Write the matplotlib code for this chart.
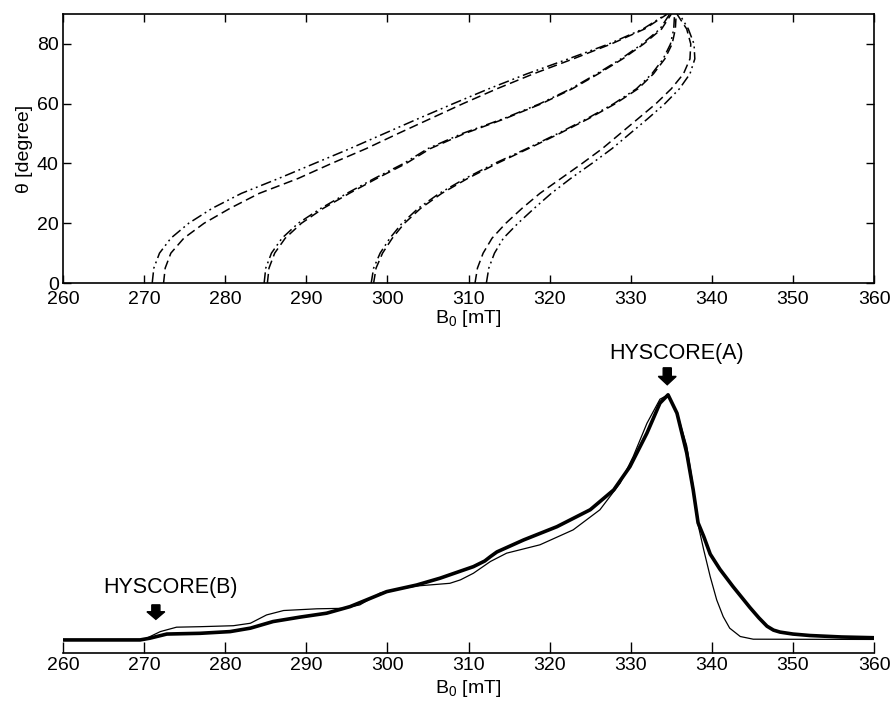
import matplotlib
matplotlib.use('Agg')
import matplotlib.pyplot as plt

plt.rcParams['font.family'] = ['Liberation Sans', 'DejaVu Sans']
plt.rcParams['mathtext.default'] = 'regular'

# top panel: resonance field vs orientation, 4 hyperfine pairs (dash-dot-dot / dashed)
theta_deg = [0, 5, 10, 15, 20, 25, 30, 35, 40, 45, 50, 55, 60, 65, 70, 75, 80, 85, 90]

p1_dashdot = [271.0, 271.2, 271.9, 273.3, 275.5, 278.4, 282.0, 286.6, 291.0, 295.4,
              299.6, 303.8, 308.1, 312.5, 317.2, 322.3, 327.3, 331.5, 334.4]
p1_dashed = [272.4, 272.6, 273.3, 274.9, 277.4, 280.6, 284.2, 289.0, 293.1, 297.4,
             301.3, 305.3, 309.3, 313.5, 318.0, 322.9, 327.6, 331.7, 334.5]
p2_dashdot = [284.8, 285.0, 285.7, 287.0, 289.0, 291.8, 295.0, 298.4, 302.0, 305.0,
              309.2, 314.3, 318.8, 322.6, 325.8, 328.8, 331.4, 333.6, 334.8]
p2_dashed = [285.2, 285.4, 286.1, 287.4, 289.4, 292.1, 295.3, 298.7, 302.3, 305.3,
             309.5, 314.5, 319.0, 322.8, 326.0, 329.0, 331.6, 333.8, 335.0]
p3_dashdot = [298.0, 298.3, 299.1, 300.3, 301.8, 303.8, 306.4, 309.6, 313.2, 317.2,
              321.0, 324.6, 327.9, 330.7, 332.6, 334.0, 334.9, 335.3, 335.4]
p3_dashed = [298.3, 298.6, 299.4, 300.6, 302.1, 304.1, 306.7, 309.9, 313.5, 317.4,
             321.2, 324.8, 328.1, 330.9, 332.8, 334.2, 335.1, 335.5, 335.6]
p4_dashed = [310.8, 311.1, 311.8, 312.9, 314.6, 316.6, 318.8, 321.4, 324.0, 326.5,
             328.7, 330.9, 333.1, 335.0, 336.5, 337.3, 337.4, 336.9, 335.7]
p4_dashdot = [312.2, 312.5, 313.2, 314.3, 316.1, 318.1, 320.2, 322.6, 325.2, 327.7,
              329.9, 332.1, 334.2, 336.0, 337.3, 337.9, 337.8, 337.1, 336.0]

# bottom panel: experimental (thick) and simulated (thin) field-swept spectrum
exp_B = [260, 269.5, 270.7, 272.8, 276.9, 280.6, 283.1, 285.9, 289.2, 292.5, 295.4,
         297.4, 299.9, 303.6, 306.5, 310.6, 312.0, 312.7, 313.5, 316.8, 320.9, 325.0,
         327.9, 329.9, 332.0, 333.6, 334.6, 335.7, 336.9, 337.7, 338.3, 339.0, 339.8,
         341.0, 342.6, 344.7, 345.8, 346.8, 347.6, 348.4, 350.0, 352.1, 356.0, 360]
exp_I = [0, 0, 0.007, 0.024, 0.027, 0.034, 0.048, 0.075, 0.093, 0.109, 0.136,
         0.163, 0.197, 0.224, 0.252, 0.299, 0.322, 0.340, 0.359, 0.408, 0.462, 0.531,
         0.612, 0.707, 0.844, 0.966, 1.0, 0.925, 0.763, 0.612, 0.478, 0.422, 0.350,
         0.288, 0.218, 0.132, 0.090, 0.056, 0.040, 0.032, 0.024, 0.018, 0.012, 0.009]
sim_B = [260, 270.0, 272.0, 274.0, 276.9, 281.0, 283.1, 285.1, 287.2, 291.3, 294.6,
         296.6, 299.1, 300.3, 303.6, 307.7, 309.0, 310.6, 312.7, 314.7, 318.8, 322.9,
         326.2, 328.7, 330.3, 332.0, 333.6, 334.6, 335.7, 336.9, 337.7, 338.3, 339.0,
         339.8, 340.6, 341.4, 342.2, 343.5, 345.1, 360]
sim_I = [0, 0.002, 0.034, 0.052, 0.054, 0.058, 0.068, 0.102, 0.120, 0.127, 0.129,
         0.143, 0.191, 0.201, 0.220, 0.231, 0.245, 0.272, 0.320, 0.354, 0.388, 0.449,
         0.531, 0.640, 0.748, 0.884, 0.982, 1.0, 0.927, 0.792, 0.625, 0.470, 0.367,
         0.258, 0.163, 0.095, 0.048, 0.014, 0.003, 0.002]

xticks = [260, 270, 280, 290, 300, 310, 320, 330, 340, 350, 360]

fig = plt.figure(figsize=(8.91, 7.04), dpi=100)

# top axes
ax1 = fig.add_axes([0.0707, 0.598, 0.9103, 0.382])
dashdotdot = (0, (7, 2.5, 1.2, 2.5, 1.2, 2.5))
dashed = (0, (6, 3))
for bb in [p1_dashdot, p2_dashdot, p3_dashdot, p4_dashdot]:
    ax1.plot(bb, theta_deg, color='k', lw=1.1, linestyle=dashdotdot)
for bb in [p1_dashed, p2_dashed, p3_dashed, p4_dashed]:
    ax1.plot(bb, theta_deg, color='k', lw=1.1, linestyle=dashed)
ax1.set_xlim(260, 360)
ax1.set_ylim(0, 90)
ax1.set_xticks(xticks)
ax1.set_yticks([0, 20, 40, 60, 80])
ax1.tick_params(direction='in', length=6, width=1, top=True, right=True,
                labelsize=14, pad=3)
ax1.tick_params(axis='x', pad=6)
for s in ax1.spines.values():
    s.set_linewidth(1.2)
ax1.set_xlabel('B$_0$ [mT]', fontsize=14, labelpad=0)
ax1.set_ylabel('θ [degree]', fontsize=14, labelpad=3)

# bottom axes
ax2 = fig.add_axes([0.0707, 0.0729, 0.9103, 0.4443])
ax2.plot(sim_B, sim_I, color='k', lw=0.9)
ax2.plot(exp_B, exp_I, color='k', lw=2.6)
ax2.set_xlim(260, 360)
ax2.set_ylim(-0.052, 1.224)
ax2.set_xticks(xticks)
ax2.set_yticks([])
for side in ['top', 'right', 'left']:
    ax2.spines[side].set_visible(False)
ax2.spines['bottom'].set_linewidth(1.2)
ax2.tick_params(axis='x', direction='in', length=8, width=1, labelsize=14, pad=3)
ax2.set_xlabel('B$_0$ [mT]', fontsize=14, labelpad=3)

# markers for HYSCORE positions
ax2.arrow(334.5, 1.110, 0, -0.069, width=1.0, head_width=2.2, head_length=0.034,
          length_includes_head=True, color='k')
ax2.text(335.7, 1.169, 'HYSCORE(A)', fontsize=15.5, ha='center', va='center')
ax2.arrow(271.45, 0.143, 0, -0.059, width=1.0, head_width=2.2, head_length=0.031,
          length_includes_head=True, color='k')
ax2.text(273.3, 0.212, 'HYSCORE(B)', fontsize=15.5, ha='center', va='center')

fig.savefig('out.png', dpi=100)
